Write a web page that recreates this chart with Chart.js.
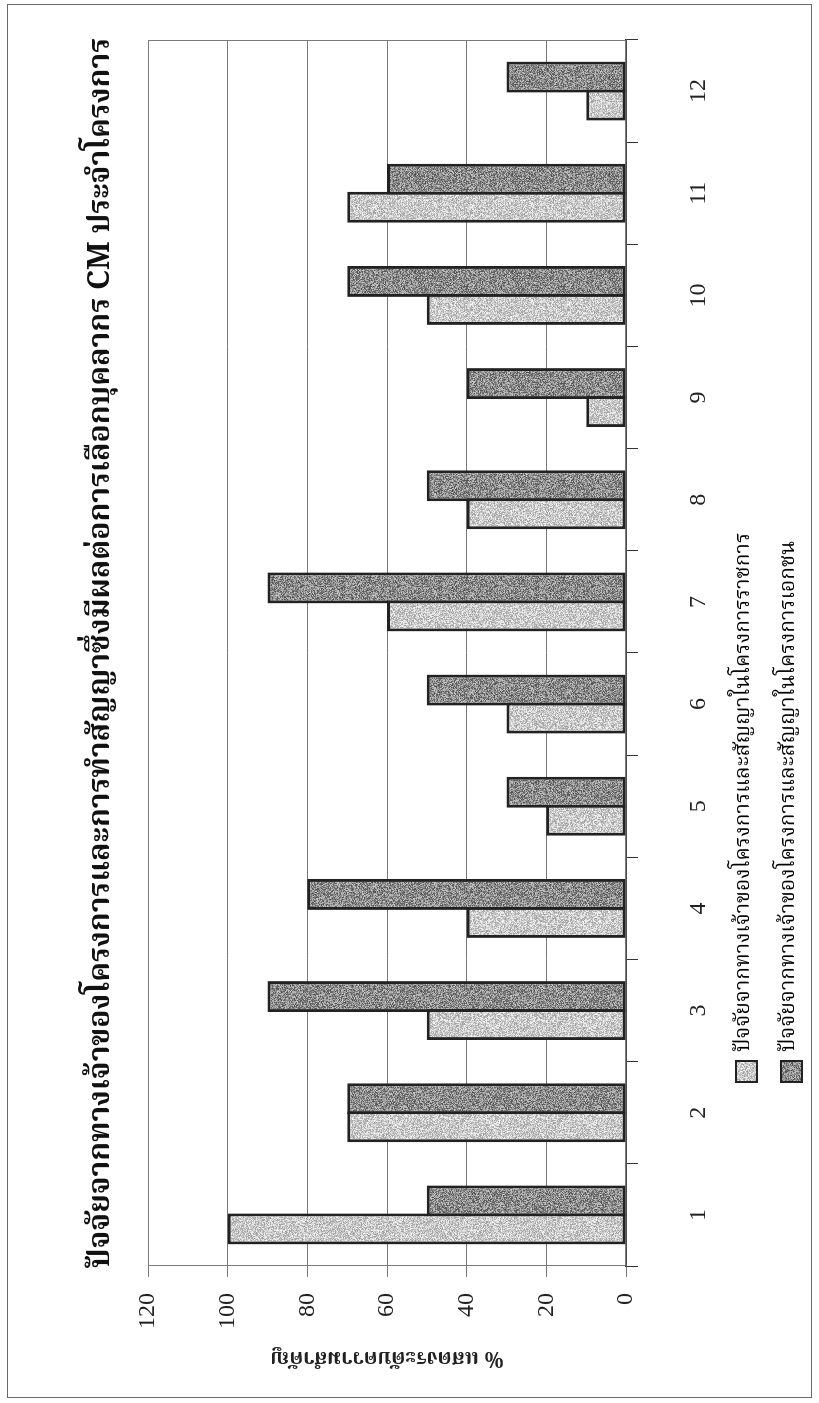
<!DOCTYPE html>
<html>
<head>
<meta charset="utf-8">
<script src="https://cdn.jsdelivr.net/npm/chart.js@4.4.1/dist/chart.umd.min.js"></script>
<style>
  html, body { margin: 0; padding: 0; background: #fff; overflow: hidden; }
  /* The chart is laid out landscape and turned a quarter turn to sit on the portrait page */
  #stage {
    position: absolute; left: 0; top: 0;
    width: 1403px; height: 819px;
    transform-origin: 0 0;
    transform: translateY(1403px) rotate(-90deg);
  }
  #frame {
    position: absolute; left: 5px; top: 7px; width: 1392px; height: 803px;
    border: 1.5px solid #6a6a6a;
  }
  #c { position: absolute; left: 0; top: 0; }
</style>
</head>
<body>
<div id="stage">
  <div id="frame"></div>
  <canvas id="c" width="1403" height="819"></canvas>
</div>
<script>
// Factor numbers shown on the category axis
const categories = ['1', '2', '3', '4', '5', '6', '7', '8', '9', '10', '11', '12'];
// Percent values per factor
const governmentProjects = [100, 70, 50, 40, 20, 30, 60, 40, 10, 50, 70, 10];
const privateProjects = [50, 70, 90, 80, 30, 50, 90, 50, 40, 70, 60, 30];
const valueTicks = [0, 20, 40, 60, 80, 100, 120];

const seriesNames = [
  'ปัจจัยจากทางเจ้าของโครงการและสัญญาในโครงการราชการ',
  'ปัจจัยจากทางเจ้าของโครงการและสัญญาในโครงการเอกชน'
];
const chartTitle = 'ปัจจัยจากทางเจ้าของโครงการและการทำสัญญาซึ่งมีผลต่อการเลือกบุคลากร CM ประจำโครงการ';
const valueAxisTitle = '% แสดงระดับความสำคัญ';

const THAI = "'Norasi', 'Kinnari', 'Angsana New', 'TH SarabunPSK', 'Noto Serif Thai', 'Noto Sans Thai', 'Loma', 'Garuda', 'Liberation Serif', serif";
const NUM = "'Liberation Serif', 'Times New Roman', serif";

const canvas = document.getElementById('c');
const ctx = canvas.getContext('2d');

// Printed stipple fill: grey grain built from a fixed integer hash
function stipple(base, spread) {
  const size = 97;
  const tile = document.createElement('canvas');
  tile.width = tile.height = size;
  const g = tile.getContext('2d');
  const img = g.createImageData(size, size);
  for (let i = 0; i < size * size; i++) {
    let h = Math.imul(i ^ 0x9e3779b9, 0x85ebca6b);
    h ^= h >>> 13;
    h = Math.imul(h, 0xc2b2ae35);
    h ^= h >>> 16;
    const n = ((h & 255) / 255) - 0.5;
    const v = Math.max(0, Math.min(255, Math.round(base + n * spread)));
    img.data[i * 4] = v; img.data[i * 4 + 1] = v; img.data[i * 4 + 2] = v; img.data[i * 4 + 3] = 255;
  }
  g.putImageData(img, 0, 0);
  return ctx.createPattern(tile, 'repeat');
}

const lightFill = stipple(202, 90);
const darkFill = stipple(140, 120);

// Thin grey border round the plot area
const plotFrame = {
  id: 'plotFrame',
  beforeDatasetsDraw(chart) {
    const a = chart.chartArea, c = chart.ctx;
    c.save();
    c.strokeStyle = '#7a7a7a';
    c.lineWidth = 1;
    c.strokeRect(a.left + 0.5, a.top + 0.5, a.right - a.left - 1, a.bottom - a.top - 1);
    c.restore();
  }
};

// Chart heading, centred over the plot area
const plotTitle = {
  id: 'plotTitle',
  afterDraw(chart) {
    const a = chart.chartArea, c = chart.ctx;
    c.save();
    c.fillStyle = '#111';
    c.font = "bold 30px " + THAI;
    c.textAlign = 'center';
    c.textBaseline = 'middle';
    c.fillText(chartTitle, (a.left + a.right) / 2, a.top - 44);
    c.restore();
  }
};

// Two-line legend under the plot
const stackedLegend = {
  id: 'stackedLegend',
  afterDraw(chart) {
    const a = chart.chartArea, c = chart.ctx;
    const x0 = a.left + 184;
    const rows = [a.bottom + 120, a.bottom + 165];
    c.save();
    chart.data.datasets.forEach((ds, i) => {
      const y = rows[i];
      c.fillStyle = ds.backgroundColor;
      c.fillRect(x0, y - 10, 21, 21);
      c.strokeStyle = '#222';
      c.lineWidth = 2;
      c.strokeRect(x0, y - 10, 21, 21);
      c.fillStyle = '#000';
      c.font = "21px " + THAI;
      c.textBaseline = 'middle';
      c.textAlign = 'left';
      c.fillText(ds.label, x0 + 30, y);
    });
    c.restore();
  }
};

new Chart(ctx, {
  type: 'bar',
  data: {
    labels: categories,
    datasets: [
      {
        label: seriesNames[0],
        data: governmentProjects,
        backgroundColor: lightFill,
        borderColor: '#222',
        borderWidth: 3,
        borderSkipped: false
      },
      {
        label: seriesNames[1],
        data: privateProjects,
        backgroundColor: darkFill,
        borderColor: '#222',
        borderWidth: 3,
        borderSkipped: false
      }
    ]
  },
  options: {
    responsive: false,
    animation: false,
    devicePixelRatio: 1,
    categoryPercentage: 0.548,
    barPercentage: 1.107,
    layout: { padding: { left: 0, right: 40, top: 148, bottom: 0 } },
    plugins: {
      legend: { display: false },
      tooltip: { enabled: false },
      title: { display: false }
    },
    scales: {
      x: {
        offset: true,
        grid: { offset: true, drawOnChartArea: false, drawTicks: true, tickLength: 12, color: '#333', lineWidth: 1 },
        border: { color: '#222', width: 1.5 },
        ticks: { color: '#222', font: { family: NUM, size: 24 }, padding: 46, maxRotation: 0 },
        afterFit(scale) { scale.height = 193; }
      },
      y: {
        min: 0,
        max: 120,
        afterBuildTicks(scale) { scale.ticks = valueTicks.map(v => ({ value: v })); },
        grid: { color: '#777', lineWidth: 1, drawTicks: true, tickLength: 11 },
        border: { color: '#555', width: 1 },
        ticks: { color: '#222', font: { family: NUM, size: 24 }, padding: 16 },
        title: {
          display: true,
          text: valueAxisTitle,
          color: '#222',
          font: { family: THAI, size: 21, weight: 'bold' },
          padding: { top: 35, bottom: 0 }
        },
        afterFit(scale) { scale.width = 137; }
      }
    }
  },
  plugins: [plotFrame, plotTitle, stackedLegend]
});
</script>
</body>
</html>
